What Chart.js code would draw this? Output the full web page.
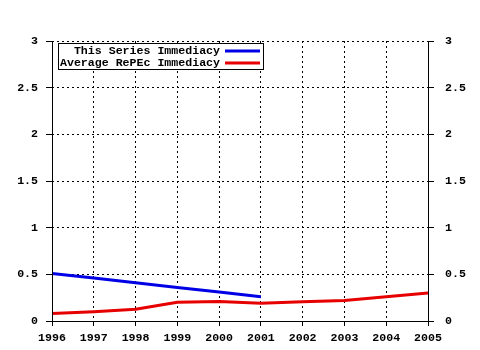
<!DOCTYPE html>
<html>
<head>
<meta charset="utf-8">
<script src="https://cdn.jsdelivr.net/npm/chart.js@4"></script>
<style>
  body { margin: 0; background: #fff; }
  #wrap { width: 480px; height: 350px; }
</style>
</head>
<body>
<div id="wrap"><canvas id="immChart" width="480" height="350"></canvas></div>
<script>
// values
const years = [1996, 1997, 1998, 1999, 2000, 2001, 2002, 2003, 2004, 2005];
const seriesImmediacy = [0.51, 0.46, 0.41, 0.36, 0.31, 0.26];
const repecImmediacy = [0.08, 0.10, 0.125, 0.20, 0.21, 0.19, 0.205, 0.22, 0.26, 0.30];
const yTicks = [0, 0.5, 1, 1.5, 2, 2.5, 3];

const FONT = { family: "'Liberation Mono', 'DejaVu Sans Mono', monospace", size: 11.6, weight: "bold" };
const BLUE = "rgb(0,0,230)";
const RED = "rgb(230,0,0)";

const toPoints = (vals) => vals.map((v, i) => ({ x: years[i], y: v }));

// legend box drawn inside the plot, top left
const boxLegend = {
  id: "boxLegend",
  afterDraw(chart) {
    const ctx = chart.ctx;
    const a = chart.chartArea;
    const x0 = a.left + 6, y0 = a.top + 2, w = 205, h = 26;
    ctx.save();
    ctx.fillStyle = "#fff";
    ctx.fillRect(x0, y0, w, h);
    ctx.strokeStyle = "#000";
    ctx.lineWidth = 1;
    ctx.strokeRect(x0 + 0.5, y0 + 0.5, w, h);
    ctx.font = `${FONT.weight} ${FONT.size}px ${FONT.family}`;
    ctx.textAlign = "right";
    ctx.textBaseline = "middle";
    ctx.fillStyle = "#000";
    const items = [
      { label: chart.data.datasets[0].label, color: BLUE },
      { label: chart.data.datasets[1].label, color: RED },
    ];
    items.forEach((it, i) => {
      const ty = y0 + 8 + i * 12;
      ctx.fillText(it.label, x0 + 162, ty);
      ctx.strokeStyle = it.color;
      ctx.lineWidth = 3;
      ctx.beginPath();
      ctx.moveTo(x0 + 167, ty);
      ctx.lineTo(x0 + 202, ty);
      ctx.stroke();
    });
    ctx.restore();
  },
};

// solid frame on left, right and bottom (grid lines are dotted)
const solidFrame = {
  id: "solidFrame",
  afterDatasetsDraw(chart) {
    const ctx = chart.ctx;
    const a = chart.chartArea;
    ctx.save();
    ctx.setLineDash([]);
    ctx.strokeStyle = "#000";
    ctx.lineWidth = 1;
    ctx.beginPath();
    ctx.moveTo(a.left + 0.5, a.top);
    ctx.lineTo(a.left + 0.5, a.bottom + 0.5);
    ctx.lineTo(a.right + 0.5, a.bottom + 0.5);
    ctx.lineTo(a.right + 0.5, a.top);
    ctx.stroke();
    ctx.restore();
  },
};

const gridOpts = { color: "#000", lineWidth: 1, tickBorderDash: [], tickColor: "#000" };

const ctx = document.getElementById("immChart").getContext("2d");
new Chart(ctx, {
  type: "line",
  data: {
    datasets: [
      {
        label: "This Series Immediacy",
        data: toPoints(seriesImmediacy),
        borderColor: BLUE,
        borderWidth: 3,
        pointRadius: 0,
        tension: 0,
      },
      {
        label: "Average RePEc Immediacy",
        data: toPoints(repecImmediacy),
        borderColor: RED,
        borderWidth: 3,
        pointRadius: 0,
        tension: 0,
      },
    ],
  },
  options: {
    responsive: false,
    devicePixelRatio: 1,
    animation: false,
    layout: { padding: { top: 41, left: 0, right: 0, bottom: 0 } },
    plugins: { legend: { display: false }, tooltip: { enabled: false } },
    scales: {
      x: {
        type: "linear",
        min: years[0],
        max: years[years.length - 1],
        afterBuildTicks: (s) => { s.ticks = years.map((v) => ({ value: v })); },
        ticks: { color: "#000", font: FONT, padding: 5, maxRotation: 0, callback: (v) => String(v) },
        grid: { ...gridOpts, tickLength: 5 },
        border: { display: false, dash: [2, 3] },
        afterFit: (s) => { s.height = 29; },
      },
      y: {
        position: "left",
        min: 0,
        max: 3,
        afterBuildTicks: (s) => { s.ticks = yTicks.map((v) => ({ value: v })); },
        ticks: { color: "#000", font: FONT, padding: 8, callback: (v) => String(v) },
        grid: { ...gridOpts, tickLength: 6 },
        border: { display: false, dash: [2, 3] },
        afterFit: (s) => { s.width = 52; },
      },
      y2: {
        position: "right",
        min: 0,
        max: 3,
        afterBuildTicks: (s) => { s.ticks = yTicks.map((v) => ({ value: v })); },
        ticks: { color: "#000", font: FONT, padding: 11, callback: (v) => String(v) },
        grid: { drawOnChartArea: false, tickLength: 6, tickColor: "#000" },
        border: { display: false },
        afterFit: (s) => { s.width = 52; },
      },
    },
  },
  plugins: [solidFrame, boxLegend],
});
</script>
</body>
</html>
